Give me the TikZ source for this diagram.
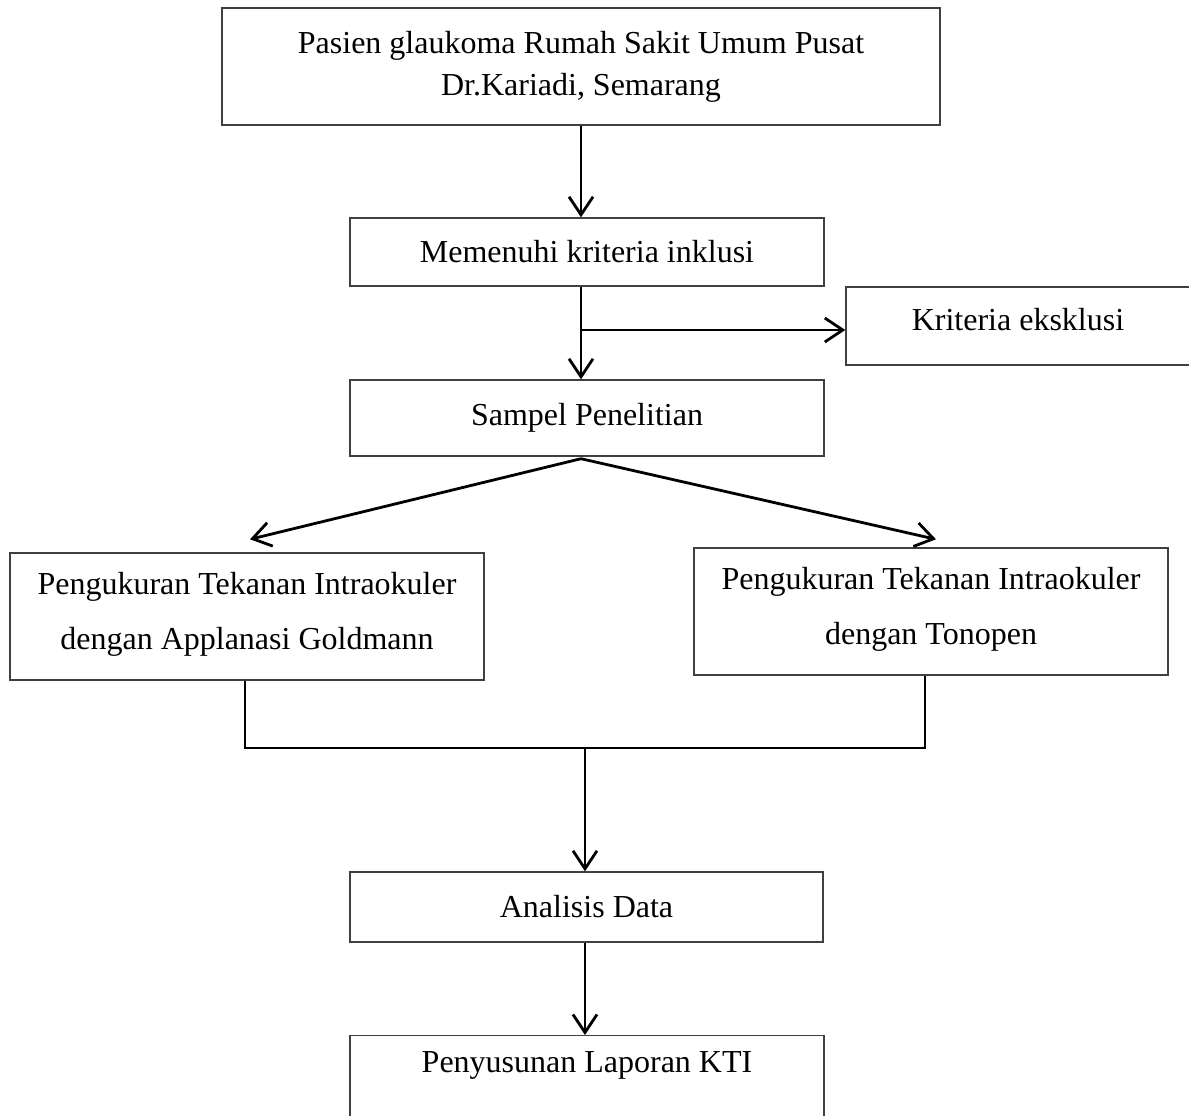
\documentclass[tikz,border=0pt]{standalone}
\usepackage{fontspec}
\setmainfont{Liberation Serif}
\usetikzlibrary{arrows.meta,calc}
\begin{document}
\begin{tikzpicture}[x=1pt,y=-1pt,
  box/.style={draw=black!75, line width=1.4pt, rectangle, align=center, inner sep=0pt,
    font=\fontsize{32}{42}\selectfont},
  widebox/.style={box, font=\fontsize{32}{55}\selectfont, minimum width=474, minimum height=127},
  conn/.style={line width=2.8pt, black},
  arr/.style={conn, -{Straight Barb[length=18pt,width=24pt,line width=2.8pt]}},
  lbl/.style={font=\fontsize{32}{42}\selectfont, inner sep=0pt, align=center}]
\useasboundingbox (0,0) rectangle (1189,1116);
\node[box, minimum width=718, minimum height=117] (b1) at (581,66.5)
  {Pasien glaukoma Rumah Sakit Umum Pusat\\Dr.Kariadi, Semarang};
\node[box, minimum width=474, minimum height=68] (b2) at (587,252) {Memenuhi kriteria inklusi};
\node[box, minimum width=344, minimum height=78] (kr) at (1018,326) {Kriteria eksklusi\rule[-14pt]{0pt}{0pt}};
\node[box, minimum width=474, minimum height=76] (b3) at (587,418) {Sampel Penelitian};
\node[widebox] (b4) at (247,616.5)
  {Pengukuran Tekanan Intraokuler\\dengan Applanasi Goldmann\rule[-12pt]{0pt}{0pt}};
\node[widebox] (b5) at (931,611.5)
  {Pengukuran Tekanan Intraokuler\\dengan Tonopen\rule[-12pt]{0pt}{0pt}};
\node[box, minimum width=473, minimum height=70] (b6) at (586.5,907) {Analisis Data};
\node[box, minimum width=474, minimum height=110, anchor=north] (b7) at (587,1035) {};
\node[lbl] (t7) at (587,1065) {Penyusunan Laporan KTI};
% connectors
\draw[arr] (b1.south) -- (b1.south |- b2.north);
\coordinate (br) at (b1.south |- kr.west);
\draw[arr] (b1.south |- b2.south) -- (b1.south |- b3.north);
\draw[arr] ($(br)+(0,4)$) -- ($(kr.west)+(0,4)$);
\coordinate (top3) at ($(b1.south |- b3.south)+(0,2)$);
\draw[arr] (top3) -- ($(b4.north)+(3,-13)$);
\draw[arr] (top3) -- ($(b5.north)+(5,-8)$);
\coordinate (jn) at (585,748);
\draw[conn] ($(b4.south)+(-2,0)$) |- (jn) -| ($(b5.south)+(-6,0)$);
\draw[arr] (jn) -- (jn |- b6.north);
\draw[arr] (jn |- b6.south) -- (jn |- b7.north);
\end{tikzpicture}
\end{document}
